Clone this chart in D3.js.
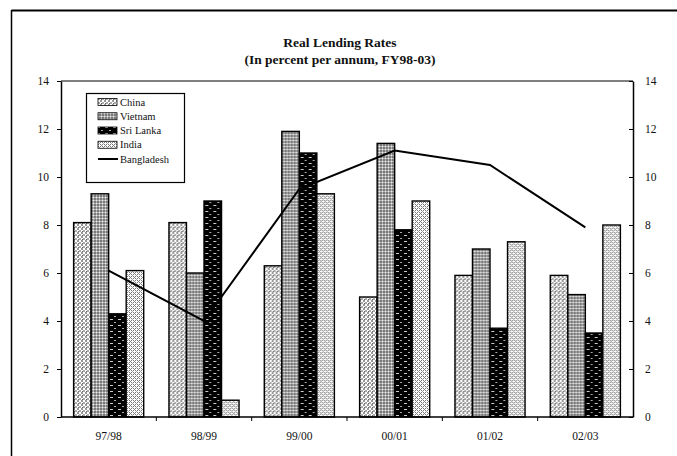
<!DOCTYPE html>
<html>
<head>
<meta charset="utf-8">
<script src="https://cdn.jsdelivr.net/npm/d3@7"></script>
<style>
  html, body { margin: 0; padding: 0; background: #fff; }
  svg { display: block; }
  text { font-family: "Liberation Serif", "Times New Roman", serif; fill: #111; }
</style>
</head>
<body>
<svg id="chart" width="677" height="456"></svg>
<script>
// Fiscal years on the category axis
const years = ["97/98", "98/99", "99/00", "00/01", "01/02", "02/03"];
// Bar series (real lending rates, percent per annum)
const china    = [8.1, 8.1, 6.3, 5.0, 5.9, 5.9];
const vietnam  = [9.3, 6.0, 11.9, 11.4, 7.0, 5.1];
const sriLanka = [4.3, 9.0, 11.0, 7.8, 3.7, 3.5];
const india    = [6.1, 0.7, 9.3, 9.0, 7.3, 8.0];
// Line series
const bangladesh = [6.1, 4.0, 9.5, 11.1, 10.5, 7.9];
// Axis ticks (both value axes)
const yTicks = [0, 2, 4, 6, 8, 10, 12, 14];
const seriesNames = ["China", "Vietnam", "Sri Lanka", "India"];
const barSeries = [china, vietnam, sriLanka, india];

const svg = d3.select("#chart");
const margin = { left: 61, right: 633, top: 81, bottom: 417 };

// ---------- fill patterns ----------
const defs = svg.append("defs");
function pattern(id, w, h, bg, draw) {
  const p = defs.append("pattern").attr("id", id)
    .attr("patternUnits", "userSpaceOnUse").attr("width", w).attr("height", h);
  p.append("rect").attr("width", w).attr("height", h).attr("fill", bg);
  draw(p);
}
const px = (p, x, yy, w, h, c) => p.append("rect").attr("x", x).attr("y", yy).attr("width", w).attr("height", h).attr("fill", c);
pattern("pChina", 4, 4, "#fff", p => {
  px(p, 0, 0, 2, 2, "#999");
  px(p, 2, 2, 2, 2, "#aaa");
  px(p, 1, 3, 1, 1, "#666");
});
pattern("pVietnam", 3, 3, "#b4b4b4", p => {
  px(p, 0, 0, 2, 2, "#7a7a7a");
  px(p, 2, 2, 1, 1, "#eee");
});
pattern("pSri", 8, 6, "#000", p => {
  px(p, 1, 1, 3, 1, "#ccc");
  px(p, 5, 4, 2, 1, "#aaa");
});
pattern("pIndia", 4, 4, "#fff", p => {
  px(p, 0, 0, 1, 1, "#777");
  px(p, 2, 0, 1, 1, "#777");
  px(p, 1, 1, 1, 1, "#888");
  px(p, 0, 2, 1, 1, "#777");
  px(p, 2, 2, 1, 1, "#777");
  px(p, 3, 3, 1, 1, "#aaa");
});
const fills = ["url(#pChina)", "url(#pVietnam)", "url(#pSri)", "url(#pIndia)"];

// ---------- outer frame ----------
svg.append("line").attr("x1", 11.5).attr("x2", 677).attr("y1", 10.5).attr("y2", 10.5)
  .attr("stroke", "#000").attr("stroke-width", 2);
svg.append("line").attr("x1", 11.5).attr("x2", 11.5).attr("y1", 10).attr("y2", 456)
  .attr("stroke", "#000").attr("stroke-width", 1.5);

// ---------- title ----------
svg.append("text").attr("x", 340).attr("y", 47).attr("text-anchor", "middle")
  .attr("font-size", 13.5).attr("font-weight", "bold").text("Real Lending Rates");
svg.append("text").attr("x", 340).attr("y", 64).attr("text-anchor", "middle")
  .attr("font-size", 13.5).attr("font-weight", "bold").text("(In percent per annum, FY98-03)");

// ---------- scales ----------
const x0 = d3.scaleBand().domain(years).range([margin.left, margin.right]).paddingInner(0).paddingOuter(0);
const x1 = d3.scaleBand().domain(seriesNames).range([0, x0.bandwidth()]).paddingInner(0).paddingOuter(0.72);
const y = d3.scaleLinear().domain([0, 14]).range([margin.bottom, margin.top]);

// ---------- bars ----------
const groups = svg.append("g").selectAll("g").data(years).join("g")
  .attr("transform", d => `translate(${x0(d)},0)`);
groups.selectAll("rect")
  .data((d, i) => seriesNames.map((s, k) => ({ s, k, v: barSeries[k][i] })))
  .join("rect")
  .attr("x", d => x1(d.s))
  .attr("y", d => y(d.v))
  .attr("width", x1.bandwidth())
  .attr("height", d => y(0) - y(d.v))
  .attr("fill", d => fills[d.k])
  .attr("stroke", "#000").attr("stroke-width", 1.4);

// ---------- Bangladesh line ----------
const line = d3.line()
  .x((d, i) => x0(years[i]) + x0.bandwidth() / 2)
  .y(d => y(d));
svg.append("path").datum(bangladesh).attr("d", line)
  .attr("fill", "none").attr("stroke", "#000").attr("stroke-width", 2);

// ---------- axes ----------
const axisStyle = g => {
  g.select(".domain").attr("stroke", "#000").attr("stroke-width", 1.5);
  g.selectAll(".tick line").attr("stroke", "#000");
  g.selectAll(".tick text").attr("font-family", "Liberation Serif, serif").attr("font-size", 11.5).attr("fill", "#111");
};
svg.append("g").attr("transform", `translate(${margin.left},0)`)
  .call(d3.axisLeft(y).tickValues(yTicks).tickSize(4).tickSizeOuter(0).tickPadding(8))
  .call(axisStyle);
svg.append("g").attr("transform", `translate(${margin.right},0)`)
  .call(d3.axisRight(y).tickValues(yTicks).tickSize(-4).tickSizeOuter(0).tickPadding(12))
  .call(axisStyle);

// category axis: ticks sit between categories, labels centred under each group
const xAxis = svg.append("g").attr("transform", `translate(0,${margin.bottom})`);
xAxis.append("line").attr("x1", margin.left).attr("x2", margin.right)
  .attr("stroke", "#000").attr("stroke-width", 1.5);
xAxis.selectAll("line.tk").data(years.slice(1)).join("line").attr("class", "tk")
  .attr("x1", d => x0(d)).attr("x2", d => x0(d)).attr("y1", 0).attr("y2", 4)
  .attr("stroke", "#000");
xAxis.selectAll("text").data(years).join("text")
  .attr("x", d => x0(d) + x0.bandwidth() / 2).attr("y", 23)
  .attr("text-anchor", "middle").attr("font-size", 11.5).text(d => d);

// plot area top edge
svg.append("line").attr("x1", margin.left).attr("x2", margin.right)
  .attr("y1", margin.top).attr("y2", margin.top).attr("stroke", "#000").attr("stroke-width", 1.2);

// ---------- legend ----------
const legend = svg.append("g");
legend.append("rect").attr("x", 86.5).attr("y", 93.5).attr("width", 98).attr("height", 89)
  .attr("fill", "#fff").attr("stroke", "#000").attr("stroke-width", 1.2);
const legendItems = seriesNames.concat(["Bangladesh"]);
const ly = d3.scalePoint().domain(legendItems).range([102, 159]);
legendItems.forEach((name, k) => {
  const cy = ly(name);
  if (k < 4) {
    legend.append("rect").attr("x", 98).attr("y", cy - 3.5).attr("width", 19).attr("height", 7)
      .attr("fill", fills[k]).attr("stroke", "#000").attr("stroke-width", 0.8);
  } else {
    legend.append("line").attr("x1", 98).attr("x2", 118).attr("y1", cy).attr("y2", cy)
      .attr("stroke", "#000").attr("stroke-width", 2);
  }
  legend.append("text").attr("x", 120).attr("y", cy + 3.5).attr("font-size", 10.5).text(name);
});
</script>
</body>
</html>
